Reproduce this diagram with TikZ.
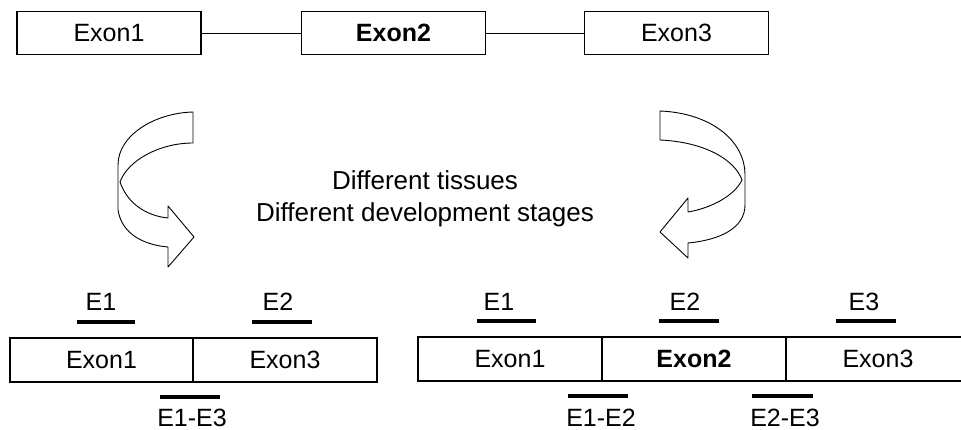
\documentclass[tikz,border=0pt]{standalone}
\usepackage{fontspec}
\setmainfont{Liberation Sans}
\usetikzlibrary{positioning}

\tikzset{
  exon/.style={draw, line width=1.2pt, minimum width=184, minimum height=43, inner sep=0pt, outer sep=0pt, font=\fontsize{25}{30}\selectfont},
  cell/.style={draw, line width=1.2pt, minimum width=184, minimum height=44, inner sep=0pt, outer sep=0pt, font=\fontsize{25}{30}\selectfont},
  probe/.style={line width=4.5pt},
  tag/.style={anchor=base, inner sep=0pt, font=\fontsize{25}{30}\selectfont},
  lowtag/.style={tag, text depth=0pt},
  twist/.style={draw, fill=white, line width=0.9pt, line join=round}
}

\begin{document}
\begin{tikzpicture}[x=1pt,y=-1pt]
\useasboundingbox (0,0) rectangle (961,430);

	\node[exon] (t1) at (109,33) {Exon1};
	\node[exon] (t2) at (393.5,33) {\textbf{Exon2}};
	\node[exon] (t3) at (676.5,33) {Exon3};
	\draw (t1) -- (t2);
	\draw (t2) -- (t3);

	\draw[twist] (193,112) .. controls (155,113) and (118,135) .. (118,165) -- (118,210)
		.. controls (122,235) and (145,245) .. (168,247) -- (168,267) -- (194,237) -- (168,206) -- (168,218)
		.. controls (148,216) and (128,205) .. (120,182) .. controls (128,160) and (160,143) .. (193,143) -- cycle;
	\draw[twist] (660,111) .. controls (710,113) and (745,140) .. (745,175) -- (745,205)
		.. controls (745,228) and (720,240) .. (688,243) -- (688,258) -- (660,232) -- (688,198) -- (688,212)
		.. controls (712,208) and (735,195) .. (742,180) .. controls (735,160) and (705,142) .. (660,140) -- cycle;

	\node[tag, font=\fontsize{26}{32}\selectfont] (why1) at (425,190) {Different tissues};
	\node[tag, font=\fontsize{26}{32}\selectfont] (why2) at (425,222) {Different development stages};

	\node[cell, minimum width=183] (l1) at (101.5,360) {Exon1};
	\node[cell, right=0pt of l1] (l3) {Exon3};

	\node[cell] (r1) at (510,359) {Exon1};
	\node[cell, right=0pt of r1] (r2) {\textbf{Exon2}};
	\node[cell, right=0pt of r2] (r3) {Exon3};

	\draw[probe] (77,322) -- (135,322);
	\node[tag] (pl1) at (101,310) {E1};
	\draw[probe] (252,322) -- (312,322);
	\node[tag] (pl2) at (278,310) {E2};
	\draw[probe] (160,397) -- (220,397);
	\node[lowtag] (pl13) at (192,426) {E1-E3};

	\draw[probe] (477,321) -- (536,321);
	\node[tag] (pr1) at (499,310) {E1};
	\draw[probe] (659,321) -- (719,321);
	\node[tag] (pr2) at (685,310) {E2};
	\draw[probe] (836,321) -- (896,321);
	\node[tag] (pr3) at (864,310) {E3};
	\draw[probe] (568,396) -- (628,396);
	\node[lowtag] (pr12) at (601,426) {E1-E2};
	\draw[probe] (752,396) -- (813,396);
	\node[lowtag] (pr23) at (785,426) {E2-E3};

\end{tikzpicture}
\end{document}
